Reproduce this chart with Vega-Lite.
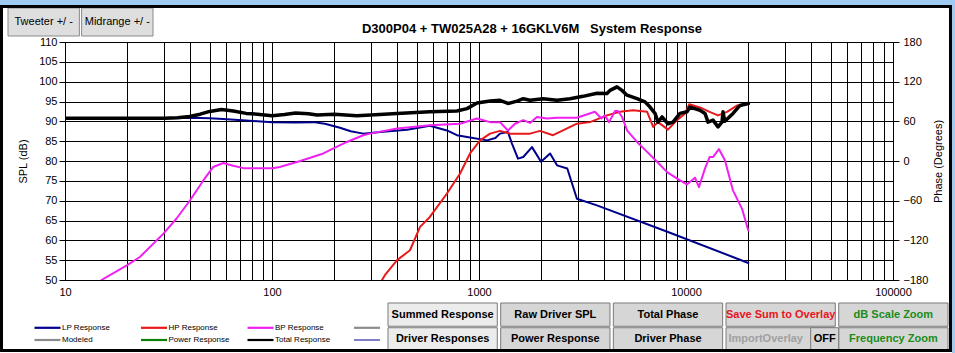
{
"$schema": "https://vega.github.io/schema/vega-lite/v6.json",
"width": 828, "height": 238,
"autosize": {"type": "none"},
"padding": {"left": 65, "top": 42, "right": 62, "bottom": 73},
"background": "white",
"title": {"text": "D300P04 + TW025A28 + 16GKLV6M\u00a0\u00a0 System Response", "font": "Liberation Sans", "fontSize": 13, "fontWeight": "bold", "color": "black", "anchor": "middle", "dx": 53, "offset": -35.5},
"config": {
  "view": {"stroke": "black", "strokeWidth": 1},
  "axis": {"labelFont": "Liberation Sans", "titleFont": "Liberation Sans", "labelFontSize": 11, "titleFontSize": 11, "titleFontWeight": "normal", "labelColor": "black", "titleColor": "black", "domain": false, "tickColor": "black", "gridColor": "black", "gridOpacity": 1, "gridWidth": 1},
  "legend": {"orient": "none", "direction": "horizontal", "legendX": -21.5, "legendY": 281.5, "columns": 4, "symbolType": "stroke", "symbolSize": 676, "symbolStrokeWidth": 2, "labelFont": "Liberation Sans", "labelFontSize": 8, "labelColor": "black", "labelOffset": 10.5, "rowPadding": 2.5, "columnPadding": 12.5, "gridAlign": "all", "padding": 0, "title": null}
},
"datasets": {
  "curves": [
    {"s":"LP Response","f":10,"db":90.8},{"s":"LP Response","f":20,"db":90.8},{"s":"LP Response","f":30,"db":90.8},{"s":"LP Response","f":40,"db":90.9},{"s":"LP Response","f":50,"db":90.8},{"s":"LP Response","f":58,"db":90.6},{"s":"LP Response","f":75,"db":90.2},{"s":"LP Response","f":100,"db":89.8},{"s":"LP Response","f":130,"db":89.7},{"s":"LP Response","f":158,"db":89.8},{"s":"LP Response","f":180,"db":89.4},{"s":"LP Response","f":213,"db":88.4},{"s":"LP Response","f":240,"db":87.5},{"s":"LP Response","f":276,"db":86.9},{"s":"LP Response","f":333,"db":87.3},{"s":"LP Response","f":449,"db":87.9},{"s":"LP Response","f":579,"db":88.9},{"s":"LP Response","f":700,"db":87.7},{"s":"LP Response","f":782,"db":86.5},{"s":"LP Response","f":905,"db":85.9},{"s":"LP Response","f":1094,"db":85.2},{"s":"LP Response","f":1200,"db":85.8},{"s":"LP Response","f":1263,"db":86.9},{"s":"LP Response","f":1380,"db":87.3},{"s":"LP Response","f":1443,"db":84.4},{"s":"LP Response","f":1543,"db":80.6},{"s":"LP Response","f":1636,"db":81.0},{"s":"LP Response","f":1803,"db":83.5},{"s":"LP Response","f":1994,"db":79.8},{"s":"LP Response","f":2205,"db":81.9},{"s":"LP Response","f":2382,"db":78.9},{"s":"LP Response","f":2670,"db":78.1},{"s":"LP Response","f":2972,"db":70.5},{"s":"LP Response","f":3714,"db":68.8},{"s":"LP Response","f":8185,"db":62.1},{"s":"LP Response","f":20000,"db":54.3},
    {"s":"HP Response","f":340,"db":50.0},{"s":"HP Response","f":351,"db":51.2},{"s":"HP Response","f":402,"db":55.0},{"s":"HP Response","f":464,"db":57.5},{"s":"HP Response","f":519,"db":63.4},{"s":"HP Response","f":579,"db":65.9},{"s":"HP Response","f":700,"db":71.8},{"s":"HP Response","f":809,"db":76.8},{"s":"HP Response","f":905,"db":81.9},{"s":"HP Response","f":1012,"db":85.2},{"s":"HP Response","f":1131,"db":86.9},{"s":"HP Response","f":1263,"db":87.6},{"s":"HP Response","f":1412,"db":86.9},{"s":"HP Response","f":1764,"db":86.9},{"s":"HP Response","f":1971,"db":87.6},{"s":"HP Response","f":2278,"db":86.5},{"s":"HP Response","f":2545,"db":87.7},{"s":"HP Response","f":2972,"db":89.4},{"s":"HP Response","f":3437,"db":89.8},{"s":"HP Response","f":4153,"db":91.5},{"s":"HP Response","f":4800,"db":92.4},{"s":"HP Response","f":5550,"db":92.8},{"s":"HP Response","f":6490,"db":92.4},{"s":"HP Response","f":6940,"db":88.6},{"s":"HP Response","f":7322,"db":89.8},{"s":"HP Response","f":8185,"db":87.9},{"s":"HP Response","f":9040,"db":90.3},{"s":"HP Response","f":9910,"db":92.0},{"s":"HP Response","f":10370,"db":94.3},{"s":"HP Response","f":11683,"db":93.5},{"s":"HP Response","f":13000,"db":92.4},{"s":"HP Response","f":14278,"db":91.5},{"s":"HP Response","f":15781,"db":92.4},{"s":"HP Response","f":17700,"db":94.0},{"s":"HP Response","f":20000,"db":94.5},
    {"s":"BP Response","f":15,"db":50.0},{"s":"BP Response","f":19.9,"db":53.7},{"s":"BP Response","f":23,"db":55.8},{"s":"BP Response","f":29.9,"db":61.7},{"s":"BP Response","f":34.6,"db":65.5},{"s":"BP Response","f":40.2,"db":70.1},{"s":"BP Response","f":46.6,"db":75.1},{"s":"BP Response","f":52,"db":78.5},{"s":"BP Response","f":58.2,"db":79.5},{"s":"BP Response","f":65,"db":78.8},{"s":"BP Response","f":72.7,"db":78.2},{"s":"BP Response","f":101,"db":78.2},{"s":"BP Response","f":109,"db":78.5},{"s":"BP Response","f":137,"db":80.0},{"s":"BP Response","f":177,"db":81.9},{"s":"BP Response","f":197,"db":83.1},{"s":"BP Response","f":230,"db":84.8},{"s":"BP Response","f":276,"db":86.5},{"s":"BP Response","f":297,"db":86.9},{"s":"BP Response","f":402,"db":88.2},{"s":"BP Response","f":579,"db":89.0},{"s":"BP Response","f":809,"db":89.4},{"s":"BP Response","f":978,"db":90.7},{"s":"BP Response","f":1131,"db":89.8},{"s":"BP Response","f":1263,"db":89.8},{"s":"BP Response","f":1380,"db":87.7},{"s":"BP Response","f":1493,"db":89.4},{"s":"BP Response","f":1636,"db":90.3},{"s":"BP Response","f":1764,"db":89.6},{"s":"BP Response","f":1905,"db":91.1},{"s":"BP Response","f":2131,"db":90.7},{"s":"BP Response","f":2382,"db":90.9},{"s":"BP Response","f":2972,"db":90.9},{"s":"BP Response","f":3630,"db":92.4},{"s":"BP Response","f":3900,"db":90.7},{"s":"BP Response","f":4050,"db":91.5},{"s":"BP Response","f":4250,"db":89.8},{"s":"BP Response","f":4540,"db":92.6},{"s":"BP Response","f":4694,"db":92.6},{"s":"BP Response","f":4910,"db":91.1},{"s":"BP Response","f":5190,"db":87.7},{"s":"BP Response","f":5800,"db":84.8},{"s":"BP Response","f":6490,"db":82.3},{"s":"BP Response","f":7250,"db":79.8},{"s":"BP Response","f":8100,"db":77.2},{"s":"BP Response","f":9350,"db":75.1},{"s":"BP Response","f":10100,"db":74.1},{"s":"BP Response","f":11050,"db":75.8},{"s":"BP Response","f":11550,"db":73.4},{"s":"BP Response","f":12350,"db":78.1},{"s":"BP Response","f":13000,"db":81.0},{"s":"BP Response","f":13500,"db":81.0},{"s":"BP Response","f":14420,"db":83.0},{"s":"BP Response","f":15420,"db":80.2},{"s":"BP Response","f":16850,"db":72.6},{"s":"BP Response","f":18640,"db":68.0},{"s":"BP Response","f":20000,"db":62.5},
    {"s":"Total Response","f":10,"db":90.8},{"s":"Total Response","f":20,"db":90.8},{"s":"Total Response","f":30,"db":90.8},{"s":"Total Response","f":35,"db":90.9},{"s":"Total Response","f":40,"db":91.2},{"s":"Total Response","f":45,"db":91.8},{"s":"Total Response","f":50,"db":92.5},{"s":"Total Response","f":57,"db":93.0},{"s":"Total Response","f":65,"db":92.6},{"s":"Total Response","f":75,"db":92.0},{"s":"Total Response","f":85,"db":91.8},{"s":"Total Response","f":100,"db":91.4},{"s":"Total Response","f":115,"db":91.7},{"s":"Total Response","f":130,"db":92.1},{"s":"Total Response","f":150,"db":91.9},{"s":"Total Response","f":165,"db":91.6},{"s":"Total Response","f":200,"db":91.8},{"s":"Total Response","f":257,"db":91.4},{"s":"Total Response","f":300,"db":91.6},{"s":"Total Response","f":402,"db":92.0},{"s":"Total Response","f":579,"db":92.4},{"s":"Total Response","f":782,"db":92.6},{"s":"Total Response","f":875,"db":93.2},{"s":"Total Response","f":978,"db":94.6},{"s":"Total Response","f":1131,"db":95.1},{"s":"Total Response","f":1263,"db":95.3},{"s":"Total Response","f":1380,"db":94.5},{"s":"Total Response","f":1527,"db":95.1},{"s":"Total Response","f":1636,"db":95.7},{"s":"Total Response","f":1764,"db":95.3},{"s":"Total Response","f":2038,"db":95.7},{"s":"Total Response","f":2382,"db":95.3},{"s":"Total Response","f":2752,"db":95.7},{"s":"Total Response","f":3180,"db":96.3},{"s":"Total Response","f":3716,"db":97.1},{"s":"Total Response","f":4153,"db":97.0},{"s":"Total Response","f":4295,"db":97.8},{"s":"Total Response","f":4642,"db":98.7},{"s":"Total Response","f":4907,"db":97.8},{"s":"Total Response","f":5188,"db":96.6},{"s":"Total Response","f":5799,"db":95.7},{"s":"Total Response","f":6338,"db":94.9},{"s":"Total Response","f":6701,"db":93.6},{"s":"Total Response","f":7084,"db":92.0},{"s":"Total Response","f":7322,"db":89.8},{"s":"Total Response","f":7657,"db":91.1},{"s":"Total Response","f":8185,"db":89.4},{"s":"Total Response","f":8654,"db":89.8},{"s":"Total Response","f":9355,"db":92.0},{"s":"Total Response","f":10111,"db":92.4},{"s":"Total Response","f":10454,"db":93.6},{"s":"Total Response","f":11683,"db":92.8},{"s":"Total Response","f":12354,"db":92.0},{"s":"Total Response","f":12774,"db":89.8},{"s":"Total Response","f":13504,"db":90.3},{"s":"Total Response","f":14278,"db":88.6},{"s":"Total Response","f":14925,"db":89.8},{"s":"Total Response","f":15091,"db":92.4},{"s":"Total Response","f":15400,"db":90.0},{"s":"Total Response","f":16872,"db":92.0},{"s":"Total Response","f":18236,"db":94.0},{"s":"Total Response","f":20000,"db":94.5}
  ],
  "buttons": [
    {"col":"A","row":"1","label":"Summed Response","tone":"n","part":"main"},
    {"col":"B","row":"1","label":"Raw Driver SPL","tone":"n","part":"main"},
    {"col":"C","row":"1","label":"Total Phase","tone":"n","part":"main"},
    {"col":"D","row":"1","label":"Save Sum to Overlay","tone":"r","part":"main"},
    {"col":"E","row":"1","label":"dB Scale Zoom","tone":"g","part":"main"},
    {"col":"A","row":"2","label":"Driver Responses","tone":"n","part":"main"},
    {"col":"B","row":"2","label":"Power Response","tone":"n","part":"main"},
    {"col":"C","row":"2","label":"Driver Phase","tone":"n","part":"main"},
    {"col":"D","row":"2","label":"ImportOverlay","tone":"d","part":"left"},
    {"col":"D","row":"2","label":"OFF","tone":"n","part":"off"},
    {"col":"E","row":"2","label":"Frequency Zoom","tone":"g","part":"main"}
  ],
  "tabs": [
    {"tab":"T","row":"1","label":"Tweeter +/ -"},
    {"tab":"M","row":"1","label":"Midrange  +/ -"}
  ]
},
"layer": [
  {
    "data": {"name": "curves"},
    "encoding": {
      "x": {"field": "f", "type": "quantitative", "scale": {"type": "log", "domain": [10, 100000], "nice": false},
        "axis": {"values": [10,20,30,40,50,60,70,80,90,100,200,300,400,500,600,700,800,900,1000,2000,3000,4000,5000,6000,7000,8000,9000,10000,20000,30000,40000,50000,60000,70000,80000,90000,100000],
          "labelExpr": "indexof([10,100,1000,10000,100000], datum.value) >= 0 ? format(datum.value, 'd') : ''",
          "ticks": false, "labelPadding": 6, "grid": true, "title": null, "labelOverlap": false, "labelFlush": false}},
      "y": {"field": "db", "type": "quantitative", "scale": {"domain": [50, 110], "nice": false, "zero": false},
        "axis": {"values": [50,55,60,65,70,75,80,85,90,95,100,105,110], "title": "SPL (dB)", "grid": true, "tickSize": 6, "labelPadding": 2, "titlePadding": 10}},
      "color": {"field": "s", "type": "nominal",
        "scale": {"domain": ["LP Response","HP Response","BP Response","_g","Modeled","Power Response","Total Response","_b"],
                  "range": ["#00008c","#e8191b","#f020f0","#8c8c8c","#8c8c8c","#0a7f0a","#000000","#00008c"]},
        "legend": {"labelExpr": "datum.label === '_g' || datum.label === '_b' ? '' : datum.label",
                   "encode": {"symbols": {"update": {"strokeWidth": {"signal": "datum.value === '_b' ? 1 : 2.2"}}}}}}
    },
    "layer": [
      {"transform": [{"filter": "datum.s !== 'Total Response'"}], "mark": {"type": "line", "strokeWidth": 2, "clip": true, "strokeCap": "round", "strokeJoin": "round"}},
      {"transform": [{"filter": "datum.s === 'Total Response'"}], "mark": {"type": "line", "strokeWidth": 3.5, "clip": true, "strokeCap": "round", "strokeJoin": "round"}}
    ]
  },
  {
    "data": {"values": [{"p": -180}, {"p": 180}]},
    "mark": {"type": "point", "opacity": 0},
    "encoding": {
      "y": {"field": "p", "type": "quantitative", "scale": {"domain": [-180, 180], "nice": false},
        "axis": {"orient": "right", "values": [-180,-120,-60,0,60,120,180], "title": "Phase (Degrees)", "grid": false, "tickSize": 6, "labelPadding": 4, "titleAngle": 270, "titleBaseline": "top", "titlePadding": 5}}
    }
  },
  {
    "data": {"name": "buttons"},
    "encoding": {
      "x": {"field": "col", "type": "nominal", "axis": null, "scale": {"type": "band", "range": [323, 883], "paddingInner": 0.03, "paddingOuter": 0}},
      "y": {"field": "row", "type": "nominal", "axis": null, "scale": {"type": "band", "range": [261, 309], "paddingInner": 0.06, "paddingOuter": 0}}
    },
    "layer": [
      {"transform": [{"filter": "datum.part !== 'off'"}], "mark": {"type": "rect", "stroke": "#7a7a7a", "strokeWidth": 1},
        "encoding": {"fill": {"condition": {"test": "datum.col === 'A'", "value": "#ececec"}, "value": "#d6d6d6"}}},
      {"transform": [{"filter": "datum.part === 'off'"}], "mark": {"type": "rect", "fill": "#d6d6d6", "stroke": "#7a7a7a", "strokeWidth": 1, "width": 28, "xOffset": 44}},
      {"transform": [{"filter": "datum.part === 'main'"}], "mark": {"type": "text", "font": "Liberation Sans", "fontWeight": "bold", "fontSize": 11},
        "encoding": {"text": {"field": "label"},
          "color": {"condition": [{"test": "datum.tone === 'r'", "value": "#e8141b"}, {"test": "datum.tone === 'g'", "value": "#1a8c1a"}, {"test": "datum.tone === 'd'", "value": "#a0a0a0"}], "value": "black"}}},
      {"transform": [{"filter": "datum.part === 'left'"}], "mark": {"type": "text", "font": "Liberation Sans", "fontWeight": "bold", "fontSize": 11, "color": "#a0a0a0", "dx": -15}, "encoding": {"text": {"field": "label"}}},
      {"transform": [{"filter": "datum.part === 'off'"}], "mark": {"type": "text", "font": "Liberation Sans", "fontWeight": "bold", "fontSize": 11, "color": "black", "dx": 44}, "encoding": {"text": {"field": "label"}}}
    ]
  },
  {
    "data": {"name": "tabs"},
    "encoding": {
      "x": {"field": "tab", "type": "nominal", "axis": null, "sort": ["T", "M"], "scale": {"type": "band", "range": [-57, 88], "paddingInner": 0.03, "paddingOuter": 0}},
      "y": {"field": "row", "type": "nominal", "axis": null, "scale": {"type": "band", "range": [-34, -6]}}
    },
    "layer": [
      {"mark": {"type": "rect", "fill": "#dedede", "stroke": "#8a8a8a", "strokeWidth": 1}},
      {"mark": {"type": "text", "font": "Liberation Sans", "fontSize": 11, "color": "black"}, "encoding": {"text": {"field": "label"}}}
    ]
  },
  {
    "data": {"values": [{"edge": "top", "row": "1"}]},
    "mark": {"type": "rect", "fill": "#9fcbf2", "stroke": null},
    "encoding": {
      "x": {"field": "edge", "type": "nominal", "axis": null, "scale": {"type": "band", "range": [-65, 890], "paddingInner": 0, "paddingOuter": 0}},
      "y": {"field": "row", "type": "nominal", "axis": null, "scale": {"type": "band", "range": [-42, -37], "paddingInner": 0, "paddingOuter": 0}}
    }
  },
  {
    "data": {"values": [{"edge": "right", "row": "1"}]},
    "mark": {"type": "rect", "fill": "#9fcbf2", "stroke": null},
    "encoding": {
      "x": {"field": "edge", "type": "nominal", "axis": null, "scale": {"type": "band", "range": [887, 890], "paddingInner": 0, "paddingOuter": 0}},
      "y": {"field": "row", "type": "nominal", "axis": null, "scale": {"type": "band", "range": [-42, 311], "paddingInner": 0, "paddingOuter": 0}}
    }
  },
  {
    "data": {"values": [{"edge": "frame", "row": "1"}]},
    "mark": {"type": "rect", "fill": null, "stroke": "black", "strokeWidth": 3},
    "encoding": {
      "x": {"field": "edge", "type": "nominal", "axis": null, "scale": {"type": "band", "range": [-63.5, 885.5], "paddingInner": 0, "paddingOuter": 0}},
      "y": {"field": "row", "type": "nominal", "axis": null, "scale": {"type": "band", "range": [-35.5, 308.5], "paddingInner": 0, "paddingOuter": 0}}
    }
  }
],
"resolve": {"scale": {"x": "independent", "y": "independent"}}
}
